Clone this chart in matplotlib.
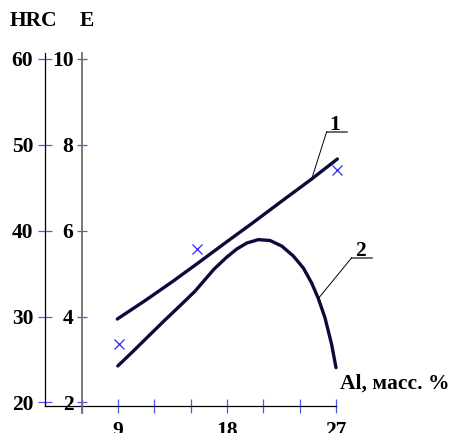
import matplotlib; matplotlib.use('Agg')
import matplotlib.pyplot as plt

plt.rcParams.update({'font.family': ['Liberation Serif', 'DejaVu Serif'],
                     'font.weight': 'bold', 'font.size': 15.5})

# кривая 1 (HRC) и кривая 2, ось x — Al, масс. %
al_1  = [8.94, 11.23, 13.43, 15.63, 17.69, 20.17, 22.54, 24.99, 27.11]
hrc_1 = [29.71, 31.85, 34.00, 36.25, 38.40, 40.95, 43.45, 46.00, 48.33]

al_2  = [8.98, 10.13, 11.50, 12.88, 14.26, 15.36, 16.18, 16.95, 17.97, 18.80,
         19.63, 20.58, 21.55, 22.52, 23.47, 24.30, 24.99, 25.54, 26.09, 26.64, 27.00]
hrc_2 = [24.25, 25.80, 27.70, 29.60, 31.45, 32.95, 34.30, 35.55, 36.90, 37.85,
         38.55, 38.95, 38.85, 38.20, 37.05, 35.65, 33.90, 32.10, 29.85, 26.75, 24.05]

# экспериментальные точки (крестики)
al_exp  = [9.1, 15.5, 27.1]
hrc_exp = [26.75, 37.89, 47.05]

hrc_ticks = [20, 30, 40, 50, 60]
e_ticks   = [2, 4, 6, 8, 10]
al_ticks  = [6, 9, 12, 15, 18, 21, 24, 27]
al_labels = ['', '9', '', '', '18', '', '', '27']

def hrc_to_e(v):
    # 20 HRC <-> E=2, 60 HRC <-> E=10
    return 2 + (v - 20) / 5.0

LINE = '#0b0b3b'
TICK = '#5050ff'
CROSS = '#2828ff'
BOLD = dict(fontweight='bold')

fig = plt.figure(figsize=(4.5, 4.33), dpi=100)
ax = fig.add_axes([0, 0, 1, 1])
ax.set_xlim(-0.7465, 36.413)
ax.set_ylim(16.45, 66.83)

for s in ('top', 'right'):
    ax.spines[s].set_visible(False)
ax.spines['left'].set_position(('data', 3))
ax.spines['left'].set_bounds(19.59, 60.67)
ax.spines['bottom'].set_position(('data', 19.59))
ax.spines['bottom'].set_bounds(3, 27)
for s in ('left', 'bottom'):
    ax.spines[s].set_linewidth(0.9)
    ax.spines[s].set_color('black')

ax.set_yticks(hrc_ticks, [str(t) for t in hrc_ticks], **BOLD)
ax.set_xticks(al_ticks, al_labels, **BOLD)
ax.tick_params(axis='y', direction='inout', length=9.4, width=0.9, color=TICK, pad=4)
ax.tick_params(axis='x', direction='inout', length=9.6, width=0.9, color=TICK, pad=6)

# вторая шкала E на x = 6
ax2 = ax.twinx()
ax2.set_ylim(*[hrc_to_e(v) for v in ax.get_ylim()])
for s in ('top', 'right', 'bottom'):
    ax2.spines[s].set_visible(False)
ax2.spines['left'].set_visible(True)
ax2.spines['left'].set_position(('data', 6))
ax2.spines['left'].set_bounds(hrc_to_e(18.81), hrc_to_e(60.67))
ax2.spines['left'].set_linewidth(1.3)
ax2.spines['left'].set_color('#707070')
ax2.yaxis.set_ticks_position('left')
ax2.set_yticks(e_ticks, [str(t) for t in e_ticks], **BOLD)
ax2.tick_params(axis='y', direction='inout', length=7.9, width=0.9, color=TICK, pad=2)

ax.plot(al_1, hrc_1, color=LINE, lw=2.4, solid_capstyle='round', solid_joinstyle='round')
ax.plot(al_2, hrc_2, color=LINE, lw=2.4, solid_capstyle='round', solid_joinstyle='round')
ax.plot(al_exp, hrc_exp, ls='none', marker='x', ms=7.2, mew=0.9, color=CROSS)

# номера кривых с выносками
for num, (lx, ly), (x0, x1, uy), idx, al, hrc in [
        ('1', (26.92, 51.7), (26.23, 27.93, 51.51), 7, al_1, hrc_1),
        ('2', (28.98, 37.0), (28.30, 30.00, 36.85), 17, al_2, hrc_2)]:
    ax.text(lx, ly, num, ha='center', va='baseline', **BOLD)
    ax.plot([x0, x1], [uy, uy], color='#505050', lw=1.2)
    ax.plot([x0, al[idx]], [uy, hrc[idx]], color='black', lw=0.7)

fig.text(10 / 450, 1 - 26 / 433, 'HRC', ha='left', va='baseline', **BOLD)
fig.text(80 / 450, 1 - 26 / 433, 'E', ha='left', va='baseline', **BOLD)
fig.text(340 / 450, 1 - 388.3 / 433, 'Al, масс. %', ha='left', va='baseline', **BOLD)

fig.savefig('out.png', dpi=100)
plt.close(fig)
